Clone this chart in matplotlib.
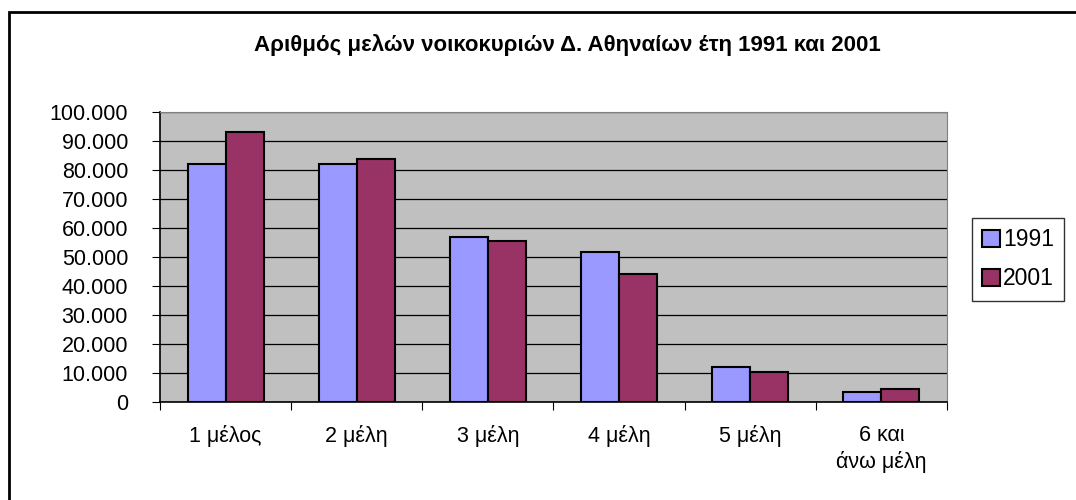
import numpy as np
import matplotlib
matplotlib.use('Agg')
import matplotlib.pyplot as plt
from matplotlib.patches import Rectangle
from matplotlib.ticker import FuncFormatter, MultipleLocator

# ---------------------------------------------------------------------------
# Data
# ---------------------------------------------------------------------------
categories = ['1 μέλος', '2 μέλη', '3 μέλη', '4 μέλη', '5 μέλη', '6 και\nάνω μέλη']
years = ['1991', '2001']
values_1991 = [81900, 81900, 56700, 51600, 12100, 3200]
values_2001 = [92900, 83600, 55500, 44000, 10300, 4500]

COLORS = ['#9999FF', '#993366']

plt.rcParams['font.family'] = ['Liberation Sans', 'DejaVu Sans']

fig = plt.figure(figsize=(10.76, 5.0), dpi=100)
ax = fig.add_axes([0.1487, 0.1966, 0.7314, 0.58])

x = np.arange(len(categories))
w = 0.29
ax.bar(x - w / 2, values_1991, w, color=COLORS[0], edgecolor='black', lw=1.5,
       label=years[0], zorder=3)
ax.bar(x + w / 2, values_2001, w, color=COLORS[1], edgecolor='black', lw=1.5,
       label=years[1], zorder=3)

ax.set_facecolor('#C0C0C0')
ax.set_xlim(-0.5, len(categories) - 0.5)
ax.set_ylim(0, 100000)
ax.yaxis.set_major_locator(MultipleLocator(10000))
ax.yaxis.set_major_formatter(FuncFormatter(lambda v, p: f'{int(v):,}'.replace(',', '.')))
ax.grid(axis='y', color='black', lw=0.9, zorder=1)

ax.set_xticks(np.arange(len(categories) + 1) - 0.5, minor=False)
ax.set_xticklabels([])
ax.set_xticks(x, minor=True)
ax.set_xticklabels(categories, minor=True, fontsize=15.5, linespacing=1.3)
ax.tick_params(axis='x', which='minor', length=0, pad=17)
ax.tick_params(axis='x', which='major', length=6, direction='out', color='black')
ax.tick_params(axis='y', length=6, direction='out', labelsize=15.5, pad=17)

for side in ('top', 'right'):
    ax.spines[side].set_color('#808080')
for side in ('left', 'bottom'):
    ax.spines[side].set_color('black')
    ax.spines[side].set_linewidth(1.2)

fig.text(0.527, 0.91, 'Αριθμός μελών νοικοκυριών Δ. Αθηναίων έτη 1991 και 2001',
         ha='center', va='center', fontsize=16, fontweight='bold')

leg = fig.legend(loc='upper left', bbox_to_anchor=(972 / 1076, 1 - 218 / 500),
                 fontsize=16.5, frameon=True, fancybox=False, edgecolor='black',
                 handlelength=0.75, handleheight=0.75, handletextpad=0.15,
                 borderpad=0.45, labelspacing=0.7, borderaxespad=0)
leg.get_frame().set_linewidth(1.0)

# outer chart border (right and bottom edges fall outside the image)
fig.add_artist(Rectangle((9 / 1076, -0.1), 1.2, 1.1 - 12 / 500,
                         transform=fig.transFigure, fill=False,
                         edgecolor='black', lw=2))

fig.savefig('out.png', dpi=100, facecolor='white')
